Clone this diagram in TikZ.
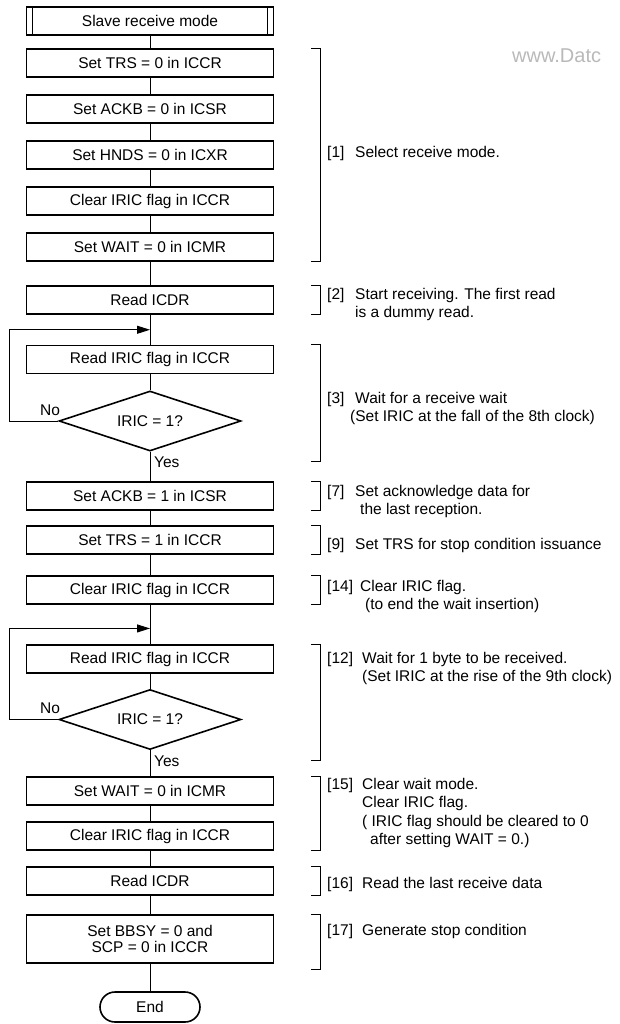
\documentclass[tikz,border=0pt]{standalone}
\usepackage{fontspec}
\setmainfont{Liberation Sans}
\usetikzlibrary{calc,shapes.geometric,arrows.meta}
\newcommand{\flowfont}{\fontsize{15.5}{16}\selectfont}
\newcommand{\notefont}{\fontsize{15.5}{18.5}\selectfont}

\begin{document}
\begin{tikzpicture}[x=1pt,y=1pt,node distance=46pt]
        \tikzstyle{etape} = [rectangle, draw=black, line width=1.6pt, minimum width=247pt, minimum height=28pt, inner sep=0pt, text centered, align=center, font=\flowfont]
        \tikzstyle{test} = [diamond, aspect=3, draw=black, line width=1.6pt, minimum width=182pt, minimum height=60pt, inner sep=0pt, font=\flowfont]
        \tikzstyle{terminal} = [rectangle, rounded corners=15pt, draw=black, line width=1.6pt, minimum width=100pt, minimum height=30pt, font=\flowfont]
        \tikzstyle{lien} = [line width=0.9pt]
        \tikzstyle{retour} = [line width=0.9pt, -{Triangle[length=13pt,width=8pt]}]
        \tikzstyle{crochet} = [line width=1pt]
        \tikzstyle{repere} = [anchor=north west, inner sep=0pt, font=\notefont]
        \tikzstyle{note} = [anchor=north west, inner sep=0pt, align=left, font=\notefont]
        \useasboundingbox (0,0) rectangle (620,-1024);
        % Mode esclave
        \node (slave) [etape] at (150,-21) {Slave receive mode};
        \draw[line width=1.4pt] ($(slave.north west)+(7,0)$) -- ($(slave.south west)+(7,0)$);
        \draw[line width=1.4pt] ($(slave.north east)+(-7,0)$) -- ($(slave.south east)+(-7,0)$);
        \node (trs0) [etape, below of=slave, yshift=4pt] {Set TRS = 0 in ICCR};
        \node (ackb0) [etape, below of=trs0] {Set ACKB = 0 in ICSR};
        \node (hnds0) [etape, below of=ackb0] {Set HNDS = 0 in ICXR};
        \node (clr0) [etape, below of=hnds0] {Clear IRIC flag in ICCR};
        \node (wait0) [etape, below of=clr0] {Set WAIT = 0 in ICMR};
        \node (rd0) [etape, below of=wait0, yshift=-7pt] {Read ICDR};
        % Attente 8e horloge
        \node (riric0) [etape, below of=rd0, yshift=-13.5pt] {Read IRIC flag in ICCR};
        \node (dia0) [test, below of=riric0, yshift=-15.5pt] {IRIC = 1?};
        \node (ackb1) [etape, below of=dia0, yshift=-29pt] {Set ACKB = 1 in ICSR};
        \node (trs1) [etape, below of=ackb1, yshift=2pt] {Set TRS = 1 in ICCR};
        \node (clr1) [etape, below of=trs1, yshift=-4pt] {Clear IRIC flag in ICCR};
        % Attente 9e horloge
        \node (riric1) [etape, below of=clr1, yshift=-23pt] {Read IRIC flag in ICCR};
        \node (dia1) [test, below of=riric1, yshift=-14.5pt] {IRIC = 1?};
        \node (wait1) [etape, below of=dia1, yshift=-25.5pt] {Set WAIT = 0 in ICMR};
        \node (clr2) [etape, below of=wait1, yshift=1pt] {Clear IRIC flag in ICCR};
        \node (rd1) [etape, below of=clr2, yshift=1pt] {Read ICDR};
        \node (bbsy) [etape, below of=rd1, yshift=-12pt, minimum height=48pt] {Set BBSY = 0 and\\SCP = 0 in ICCR};
        \node (stop) [terminal, below of=bbsy, yshift=-22pt] {End};
        \draw[lien] (slave) -- (trs0) -- (ackb0) -- (hnds0) -- (clr0) -- (wait0) -- (rd0) -- (riric0) -- (dia0) -- (ackb1) -- (trs1) -- (clr1) -- (riric1) -- (dia1) -- (wait1) -- (clr2) -- (rd1) -- (bbsy) -- (stop);
        % Boucles
        \coordinate (boucle0) at ($(rd0.south)!0.5!(riric0.north)$);
        \draw[retour] (dia0.west) -- ++(-49,0) |- (boucle0);
        \node (no0) [anchor=base east, inner sep=0pt, font=\flowfont] at ($(dia0.west)+(2,6)$) {No};
        \node (yes0) [anchor=base west, inner sep=0pt, font=\flowfont] at ($(dia0.south)+(4,-16)$) {Yes};
        \coordinate (boucle1) at ($(clr1.south)!0.6!(riric1.north)$);
        \draw[retour] (dia1.west) -- ++(-49,0) |- (boucle1);
        \node (no1) [anchor=base east, inner sep=0pt, font=\flowfont] at ($(dia1.west)+(2,6)$) {No};
        \node (yes1) [anchor=base west, inner sep=0pt, font=\flowfont] at ($(dia1.south)+(4,-16)$) {Yes};
        % Crochets
        \coordinate (brx) at (311,0);
        \coordinate (fin3) at ($(dia0.south)+(0,-10)$);
        \coordinate (fin12) at ($(dia1.south)+(0,-10)$);
        \coordinate (fin17) at ($(bbsy.south)+(0,-6)$);
        \draw[crochet] (trs0.north -| brx) -- ++(9,0) |- (wait0.south -| brx);
        \draw[crochet] (rd0.north -| brx) -- ++(9,0) |- (rd0.south -| brx);
        \draw[crochet] (riric0.north -| brx) -- ++(9,0) |- (fin3 -| brx);
        \draw[crochet] (ackb1.north -| brx) -- ++(9,0) |- (ackb1.south -| brx);
        \draw[crochet] (trs1.north -| brx) -- ++(9,0) |- (trs1.south -| brx);
        \draw[crochet] (clr1.north -| brx) -- ++(9,0) |- (clr1.south -| brx);
        \draw[crochet] (riric1.north -| brx) -- ++(9,0) |- (fin12 -| brx);
        \draw[crochet] (wait1.north -| brx) -- ++(9,0) |- (clr2.south -| brx);
        \draw[crochet] (rd1.north -| brx) -- ++(9,0) |- (rd1.south -| brx);
        \draw[crochet] (bbsy.north -| brx) -- ++(9,0) |- (fin17 -| brx);
        % Notes
        \node (tag1) [repere] at (327,-146) {[1]};
        \node (note1) [note] at (355,-146) {Select receive mode.};
        \node (tag2) [repere] at (327,-288) {[2]};
        \node (note2) [note] at (355,-288) {Start receiving. The first read\\is a dummy read.};
        \node (tag3) [repere] at (327,-392) {[3]};
        \node (note3) [note] at (350,-392) {\hspace*{5pt}Wait for a receive wait\\(Set IRIC at the fall of the 8th clock)};
        \node (tag7) [repere] at (327,-485) {[7]};
        \node (note7) [note] at (355,-485) {Set acknowledge data for\\\hspace*{5pt}the last reception.};
        \node (tag9) [repere] at (327,-538) {[9]};
        \node (note9) [note] at (355,-538) {Set TRS for stop condition issuance};
        \node (tag14) [repere] at (327,-580) {[14]};
        \node (note14) [note] at (360,-580) {Clear IRIC flag.\\\hspace*{5pt}(to end the wait insertion)};
        \node (tag12) [repere] at (327,-652) {[12]};
        \node (note12) [note] at (362,-652) {Wait for 1 byte to be received.\\(Set IRIC at the rise of the 9th clock)};
        \node (tag15) [repere] at (327,-778) {[15]};
        \node (note15) [note] at (362,-778) {Clear wait mode.\\Clear IRIC flag.\\( IRIC flag should be cleared to 0\\\hspace*{8pt}after setting WAIT = 0.)};
        \node (tag16) [repere] at (327,-877) {[16]};
        \node (note16) [note] at (362,-877) {Read the last receive data};
        \node (tag17) [repere] at (327,-924) {[17]};
        \node (note17) [note] at (362,-924) {Generate stop condition};
        % Filigrane
        \node (filigrane) [anchor=west, inner sep=0pt, text=gray!55, font=\fontsize{20}{20}\selectfont] at (512,-56) {www.Datc};
\end{tikzpicture}
\end{document}
